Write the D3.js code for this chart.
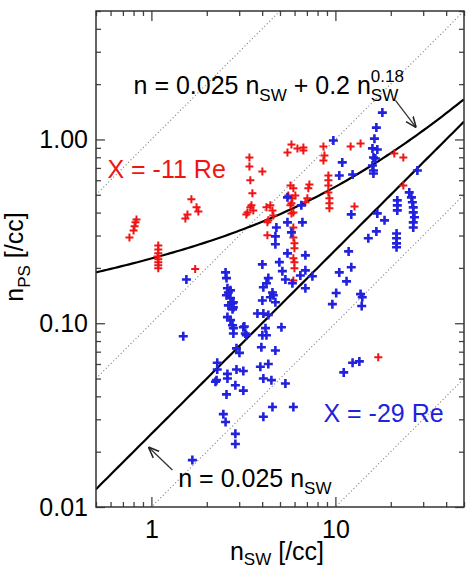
<!DOCTYPE html>
<html>
<head>
<meta charset="utf-8">
<script src="https://cdn.jsdelivr.net/npm/d3@7"></script>
<style>
body { margin: 0; background: #fff; }
text { font-family: "Liberation Sans", Arial, sans-serif; }
</style>
</head>
<body>
<svg id="chart" width="467" height="569"></svg>
<script>
// X = -11 Re, [n_sw, n_ps]
var redPoints = [
[0.76,0.293],[0.80,0.320],[0.81,0.337],[0.82,0.354],[0.83,0.367],
[1.09,0.265],[1.09,0.252],[1.09,0.240],[1.08,0.231],[1.09,0.223],[1.09,0.215],[1.09,0.207],[1.09,0.199],
[1.73,0.197],[1.53,0.372],[1.57,0.391],[1.65,0.472],[1.76,0.427],[1.80,0.406],
[3.41,0.798],[3.41,0.713],[4.01,0.670],[3.45,0.599],[3.54,0.509],[3.33,0.401],[3.50,0.438],[3.58,0.411],[3.45,0.427],[3.28,0.391],
[4.43,0.438],[4.55,0.411],[4.60,0.386],[4.32,0.363],[4.27,0.354],[4.27,0.301],[4.22,0.427],
[5.49,0.850],[5.77,0.939],[6.22,0.894],[6.70,0.905],[6.70,0.871],
[5.70,0.562],[5.91,0.542],[5.55,0.496],[5.84,0.478],[6.06,0.496],[5.70,0.438],[5.91,0.401],[6.87,0.455],[7.04,0.478],[5.77,0.449],[5.77,0.396],
[5.91,0.332],[5.91,0.293],[5.99,0.272],[5.99,0.256],[5.91,0.226],[5.99,0.215],[5.99,0.199],[5.91,0.171],
[7.22,0.569],[7.13,0.542],
[8.61,0.916],[8.72,0.818],[8.61,0.769],[9.16,0.637],[9.16,0.599],[9.16,0.562],[9.16,0.515],[9.28,0.478],[9.28,0.449],[9.28,0.422],
[12.1,0.916],[13.7,0.951],[12.7,0.432],[20.9,0.839],[23.4,0.798],[23.4,0.562],[17.1,0.0653]
];

// X = -29 Re, [n_sw, n_ps]
var bluePoints = [
[18.0,1.40],[16.7,1.16],[16.3,1.01],[15.9,0.894],[16.9,0.882],[16.1,0.798],[16.5,0.788],[15.9,0.722],[16.1,0.678],[16.1,0.653],
[9.75,0.987],[10.9,0.750],[10.5,0.637],[12.4,0.645],[27.9,0.678],
[5.49,0.484],[6.53,0.438],
[21.7,0.466],[21.7,0.438],[21.7,0.411],[25.2,0.515],[25.9,0.484],[26.2,0.455],[26.5,0.427],[26.5,0.401],[26.9,0.377],[26.5,0.354],[26.5,0.332],
[12.2,0.391],[16.9,0.396],[18.5,0.363],[16.7,0.316],[15.1,0.290],[21.5,0.308],[21.5,0.290],[21.5,0.272],[21.5,0.259],
[5.49,0.354],[6.62,0.354],[4.78,0.332],[4.72,0.297],[4.72,0.269],[5.77,0.312],[5.49,0.240],[6.87,0.234],[4.96,0.215],[4.01,0.209],
[5.15,0.192],[5.35,0.173],[4.32,0.176],[4.22,0.165],[4.06,0.157],[4.55,0.147],[4.43,0.1385],[4.60,0.142],[4.01,0.133],
[3.77,0.113],[4.06,0.113],[4.32,0.111],[4.17,0.094],[4.01,0.086],[4.22,0.086],[4.72,0.130],[5.09,0.095],
[5.84,0.165],[6.45,0.182],[6.87,0.194],[6.87,0.155],[7.50,0.180],
[3.96,0.074],[4.72,0.071],[3.16,0.095],[3.28,0.086],[2.90,0.073],[3.01,0.069],[3.91,0.058],[4.32,0.060],[2.90,0.056],[3.16,0.055],
[4.06,0.050],[4.49,0.049],[5.35,0.047],[2.86,0.046],[3.16,0.043],[2.59,0.053],[2.59,0.050],[2.56,0.041],
[2.28,0.061],[2.28,0.056],[2.26,0.049],[2.23,0.048],[2.46,0.032],[2.53,0.029],[2.86,0.025],[2.86,0.022],
[4.06,0.031],[4.55,0.035],[1.67,0.018],[5.91,0.035],[11.1,0.054],[12.4,0.061],[13.5,0.062],
[11.8,0.246],[12.2,0.2015],[10.5,0.189],[11.5,0.169],[10.1,0.146],[9.63,0.127],[13.7,0.144],[14.0,0.1385],[13.9,0.124],
[1.55,0.173],[1.49,0.085],
[2.53,0.189],[2.56,0.176],[2.59,0.155],[2.62,0.147],[2.69,0.151],[2.56,0.142],[2.69,0.137],[2.76,0.1285],[2.79,0.130],
[2.62,0.125],[2.76,0.119],[2.79,0.122],[2.59,0.108],[2.69,0.104],[2.76,0.0975],[2.79,0.094],[2.79,0.088],[3.20,0.096],[3.24,0.088]
];

var xTicks = [1, 10];
var xTickLabels = ["1", "10"];
var yTicks = [0.01, 0.1, 1];
var yTickLabels = ["0.01", "0.10", "1.00"];
var ratioLines = [1, 0.1, 0.01, 0.001];   // dotted n = r * n_sw
var linearCoef = 0.025;
var powerCoef = 0.2;
var powerExp = 0.18;

const svg = d3.select("#chart");
const margin = {top: 11, right: 3, bottom: 62, left: 96};
const width = 467 - margin.left - margin.right;
const height = 569 - margin.top - margin.bottom;
const fontSize = 25;
const red = "#f01414";
const blue = "#2222dd";

const g = svg.append("g")
    .attr("transform", "translate(" + margin.left + "," + margin.top + ")");

// Scale.
const scaleX = d3.scaleLog().domain([0.5, 50]).range([0, width]);
const scaleY = d3.scaleLog().domain([0.01, 5]).range([height, 0]);

svg.append("defs").append("clipPath").attr("id", "plotClip")
  .append("rect").attr("width", width).attr("height", height);

const minorX = scaleX.ticks().filter(function(d) { return xTicks.indexOf(d) < 0; });
const minorY = scaleY.ticks().filter(function(d) {
  return yTicks.every(function(t) { return Math.abs(d - t) > 1e-9; });
});

function addAxis(axis, transform, values, size, labels) {
  axis.tickValues(values).tickSizeInner(-size).tickSizeOuter(0)
    .tickFormat(function(d, i) { return labels ? labels[i] : ""; });
  const a = g.append("g").attr("transform", transform).call(axis);
  a.select(".domain").remove();
  a.selectAll("line").attr("stroke", "#444").attr("stroke-width", 1.3);
  a.selectAll("text").attr("font-size", fontSize).attr("fill", "#000")
    .attr("font-family", "'Liberation Sans', Arial, sans-serif");
  return a;
}

addAxis(d3.axisBottom(scaleX).tickPadding(13), "translate(0," + height + ")", xTicks, 10, xTickLabels);
addAxis(d3.axisBottom(scaleX), "translate(0," + height + ")", minorX, 5);
addAxis(d3.axisTop(scaleX), "translate(0,0)", xTicks, 10);
addAxis(d3.axisTop(scaleX), "translate(0,0)", minorX, 5);
addAxis(d3.axisLeft(scaleY).tickPadding(8), "translate(0,0)", yTicks, 9, yTickLabels);
addAxis(d3.axisLeft(scaleY), "translate(0,0)", minorY, 5);
addAxis(d3.axisRight(scaleY), "translate(" + width + ",0)", yTicks, 9);
addAxis(d3.axisRight(scaleY), "translate(" + width + ",0)", minorY, 5);

const plot = g.append("g").attr("clip-path", "url(#plotClip)");

// Dotted reference lines n = r * n_sw.
const straight = d3.line()
  .x(function(d) { return scaleX(d[0]); })
  .y(function(d) { return scaleY(d[1]); });

plot.selectAll(".ratio")
  .data(ratioLines)
  .enter()
  .append("path")
    .attr("class", "ratio")
    .attr("fill", "none")
    .attr("stroke", "#777")
    .attr("stroke-width", 1.1)
    .attr("stroke-dasharray", "1,2.5")
    .attr("d", function(r) {
      return straight(scaleX.domain().map(function(x) { return [x, r * x]; }));
    });

// Fitted curves.
const xs = d3.range(0, 101).map(function(i) { return 0.5 * Math.pow(100, i / 100); });
const fitLinear = xs.map(function(x) { return [x, linearCoef * x]; });
const fitPower = xs.map(function(x) { return [x, linearCoef * x + powerCoef * Math.pow(x, powerExp)]; });

[fitLinear, fitPower].forEach(function(pts) {
  plot.append("path")
    .datum(pts)
    .attr("fill", "none")
    .attr("stroke", "#000")
    .attr("stroke-width", 2.2)
    .attr("d", straight);
});

// Plus markers.
function plusMarks(data, color, size, sw) {
  plot.append("g").selectAll("path")
    .data(data)
    .enter()
    .append("path")
      .attr("stroke", color)
      .attr("stroke-width", sw)
      .attr("fill", "none")
      .attr("d", function(d) {
        const cx = scaleX(d[0]), cy = scaleY(d[1]), h = size / 2;
        return "M" + (cx - h) + "," + cy + "H" + (cx + h) + "M" + cx + "," + (cy - h) + "V" + (cy + h);
      });
}
plusMarks(redPoints, red, 8, 2);
plusMarks(bluePoints, blue, 9, 2.6);

// Frame.
g.append("rect")
  .attr("width", width).attr("height", height)
  .attr("fill", "none").attr("stroke", "#333").attr("stroke-width", 1.5);

// Rich text with subscripts and superscripts.
function richText(x, y, parts, color, anchor) {
  const t = g.append("text")
    .attr("x", x).attr("y", y)
    .attr("fill", color)
    .attr("font-size", fontSize)
    .attr("text-anchor", anchor || "start");
  let shift = 0, last = null;
  parts.forEach(function(p) {
    const s = t.append("tspan").text(p.t);
    let target = p.sub ? 7 : (p.sup ? -12 : 0);
    if (p.sub || p.sup) s.attr("font-size", 17);
    if (p.sup && last) s.attr("dx", -last.node().getComputedTextLength());
    s.attr("dy", target - shift);
    shift = target;
    last = s;
  });
  return t;
}

richText(scaleX(0.80), scaleY(1.757), [
  {t: "n = 0.025 n"}, {t: "SW", sub: true}, {t: " + 0.2 n"}, {t: "SW", sub: true}, {t: "0.18", sup: true}
], "#000");
richText(scaleX(0.577), scaleY(0.614), [{t: "X = -11 Re"}], red);
richText(scaleX(8.61), scaleY(0.029), [{t: "X = -29 Re"}], blue);
richText(scaleX(1.40), scaleY(0.01284), [{t: "n = 0.025 n"}, {t: "SW", sub: true}], "#000");

// Arrows.
svg.append("defs").append("marker")
  .attr("id", "arrowHead")
  .attr("viewBox", "0 0 10 10")
  .attr("refX", 10).attr("refY", 5)
  .attr("markerWidth", 11).attr("markerHeight", 11)
  .attr("markerUnits", "userSpaceOnUse")
  .attr("orient", "auto")
  .append("path")
    .attr("d", "M0,1L10,5L0,9")
    .attr("fill", "none")
    .attr("stroke", "#222")
    .attr("stroke-width", 1.4);

var arrows = [
  [[21.2, 1.63], [27.5, 1.16]],
  [[1.30, 0.0159], [0.963, 0.0212]]
];
g.selectAll(".arrow")
  .data(arrows)
  .enter()
  .append("path")
    .attr("class", "arrow")
    .attr("fill", "none")
    .attr("stroke", "#333")
    .attr("stroke-width", 1.3)
    .attr("marker-end", "url(#arrowHead)")
    .attr("d", straight);

// Axis titles.
const yTitle = svg.append("text")
  .attr("transform", "translate(23,257) rotate(-90)")
  .attr("text-anchor", "middle")
  .attr("font-size", fontSize)
  .attr("fill", "#000");
yTitle.append("tspan").text("n");
yTitle.append("tspan").text("PS").attr("font-size", 17).attr("dy", 7);
yTitle.append("tspan").text(" [/cc]").attr("dy", -7);

const xTitle = svg.append("text")
  .attr("x", 277).attr("y", 560)
  .attr("text-anchor", "middle")
  .attr("font-size", fontSize)
  .attr("fill", "#000");
xTitle.append("tspan").text("n");
xTitle.append("tspan").text("SW").attr("font-size", 17).attr("dy", 5);
xTitle.append("tspan").text(" [/cc]").attr("dy", -5);
</script>
</body>
</html>
